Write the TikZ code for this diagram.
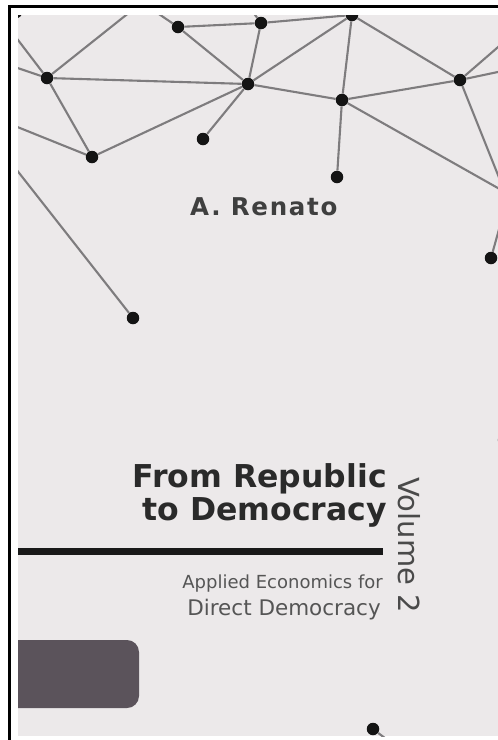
\documentclass[tikz,border=0pt]{standalone}
\usepackage{fontspec}
\setmainfont{DejaVu Sans}
\newfontfamily\authorfont[LetterSpace=7]{DejaVu Sans}
\definecolor{paper}{HTML}{ECE9EA}
\definecolor{slab}{HTML}{5B535B}
\definecolor{edgegray}{HTML}{7E7C7E}
\definecolor{titleink}{HTML}{2A2A2A}
\definecolor{subink}{HTML}{555555}
\tikzset{
  dot/.style={circle,fill=black!92,inner sep=0pt,minimum size=12.5pt},
  link/.style={draw=edgegray,line width=2.1pt},
  frameline/.style={draw=black,line width=2.8pt}
}
\begin{document}
\begin{tikzpicture}[x=1pt,y=-1pt]
\useasboundingbox (0,0) rectangle (498,740);
\fill[white] (0,0) rectangle (498,740);
% frame lines
\draw[frameline] (8,6.2) -- (498,6.2);
\draw[frameline] (9.6,5) -- (9.6,740);
\begin{scope}
\clip (18,15) rectangle (498,736);
\fill[paper] (18,15) rectangle (498,736);
% nodes
\node[dot] (a) at (47,78) {};
\node[dot] (b) at (178,27) {};
\node[dot] (c) at (261,23) {};
\node[dot] (d) at (352,15) {};
\node[dot] (e) at (248,84) {};
\node[dot] (f) at (342,100) {};
\node[dot] (g) at (460,80) {};
\node[dot] (h) at (203,139) {};
\node[dot] (i) at (92,157) {};
\node[dot] (j) at (337,177) {};
\node[dot] (k) at (133,318) {};
\node[dot] (l) at (491,258) {};
\node[dot] (m) at (373,729) {};
\node[dot] (n) at (504,440) {};
\node[dot] (o) at (16,12) {};
% free ends
\coordinate (p1) at (150,-4);
\coordinate (p2) at (2,19);
\coordinate (p3) at (0,62);
\coordinate (p4) at (0,120);
\coordinate (p5) at (5,155);
\coordinate (p6) at (150,8);
\coordinate (p7) at (250,8);
\coordinate (p8) at (512,35);
\coordinate (p9) at (512,69);
\coordinate (p10) at (506,195);
\coordinate (p11) at (512,196);
\coordinate (p12) at (503,215);
\coordinate (p13) at (398,748);
% connectors
\foreach \s/\t in {a/p1,a/p2,a/p3,a/e,a/i,i/p4,i/e,e/h,b/e,b/c,b/p6,c/p7,c/d,c/e,d/e,d/f,d/g,e/f,f/g,f/j,f/p11,g/p8,g/p9,g/p10,k/p5,l/p12,m/p13}
  \draw[link] (\s) -- (\t);
% dark slab
\fill[slab,rounded corners=12pt] (0,640) rectangle (139,708);
% texts
\node[anchor=base west,inner sep=0pt,text=titleink!90] (author) at (190,215)
  {\authorfont\fontsize{24.5}{28}\selectfont\bfseries A. Renato};
\node[anchor=base east,inner sep=0pt,text=titleink] (t1) at (387,487)
  {\fontsize{31.5}{35}\selectfont\bfseries From Republic};
\node[anchor=base east,inner sep=0pt,text=titleink] (t2) at (387,520)
  {\fontsize{31.5}{35}\selectfont\bfseries to Democracy};
\fill[black!90] (18,548) rectangle (383,555);
\node[anchor=base east,inner sep=0pt,text=subink] (s1) at (383,588)
  {\fontsize{18}{22}\selectfont Applied Economics for};
\node[anchor=base east,inner sep=0pt,text=subink] (s2) at (381,615)
  {\fontsize{21.5}{25}\selectfont Direct Democracy};
\node[anchor=base west,inner sep=0pt,rotate=-90,text=titleink!85] (vol) at (398,477)
  {\fontsize{29}{33}\selectfont Volume 2};
\end{scope}
\end{tikzpicture}
\end{document}
